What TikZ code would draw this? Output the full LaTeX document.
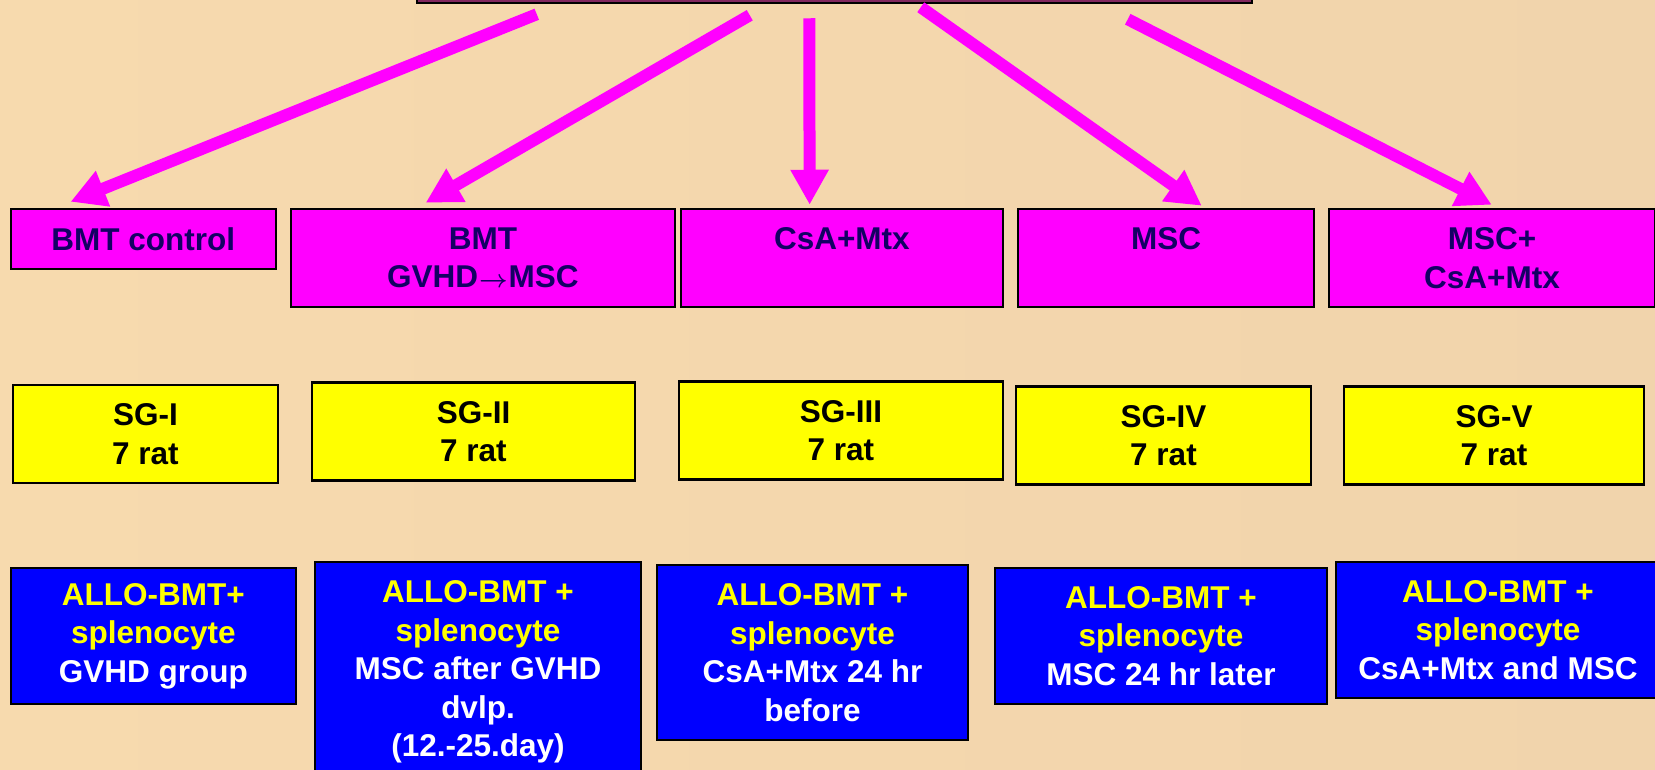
\documentclass[tikz,border=0pt]{standalone}
\usepackage{fontspec}
\setmainfont{Liberation Sans}
\usetikzlibrary{arrows.meta}
\definecolor{parchment}{RGB}{247,218,174}
\definecolor{parchmentdark}{RGB}{241,212,172}
\definecolor{pinkfill}{RGB}{255,0,255}
\definecolor{navytext}{RGB}{20,0,100}
\definecolor{protoblue}{RGB}{0,0,255}
\definecolor{hlyellow}{RGB}{255,255,0}
\definecolor{titlefill}{RGB}{130,40,95}

\begin{document}
\begin{tikzpicture}[
    x=1pt, y=-1pt,
    every node/.style={font=\fontsize{31.5}{38.5}\selectfont\bfseries, align=center, inner sep=0pt},
    box/.style={rectangle, draw=black, line width=2.5pt},
    treat/.style={box, fill=pinkfill, text=navytext, minimum height=98pt},
    group/.style={box, fill=hlyellow, text=black, minimum height=98pt},
    proto/.style={box, fill=protoblue, text=white},
    arrow/.style={-{Triangle[length=35pt, width=36pt]}, line width=12pt, draw=pinkfill}
]
% background
\useasboundingbox (0,0) rectangle (1655,769);
\shade[left color=parchment, right color=parchmentdark] (0,0) rectangle (1655,769);

% title box (cut off at the top)
\node[box, fill=titlefill, minimum width=835pt, minimum height=62pt] (title) at (834.5,-28) {};

% treatment row
\node[treat, minimum width=265pt, minimum height=60pt] (ctrl) at (143.3,239) {BMT control};
\node[treat, minimum width=384pt] (late) at (482.9,258) {BMT\\GVHD\kern1pt{\boldmath$\rightarrow$}\kern1ptMSC};
\node[treat, minimum width=322pt] (csa) at (841.9,258) {CsA+Mtx\\\mbox{}};
\node[treat, minimum width=296pt] (msc) at (1166,258) {MSC\\\mbox{}};
\node[treat, minimum width=326pt] (combo) at (1492,258) {MSC+\\CsA+Mtx};

% study groups
\node[group, minimum width=265pt] (sg1) at (145.5,434) {SG-I\\7 rat};
\node[group, minimum width=323pt] (sg2) at (473.5,431.5) {SG-II\\7 rat};
\node[group, minimum width=324pt] (sg3) at (841,430.5) {SG-III\\7 rat};
\node[group, minimum width=295pt] (sg4) at (1163.5,435.5) {SG-IV\\7 rat};
\node[group, minimum width=300pt] (sg5) at (1494,435.5) {SG-V\\7 rat};

% protocols
\node[proto, minimum width=285pt, minimum height=136pt] (p1) at (153.3,636)
    {\textcolor{hlyellow}{ALLO-BMT+}\\\textcolor{hlyellow}{splenocyte}\\GVHD group};
\node[proto, minimum width=326pt, minimum height=220pt] (p2) at (478,672)
    {\textcolor{hlyellow}{ALLO-BMT +}\\\textcolor{hlyellow}{splenocyte}\\MSC after GVHD\\dvlp.\\(12.-25.day)};
\node[proto, minimum width=311pt, minimum height=175pt] (p3) at (812.5,652.5)
    {\textcolor{hlyellow}{ALLO-BMT +}\\\textcolor{hlyellow}{splenocyte}\\CsA+Mtx 24 hr\\before};
\node[proto, minimum width=332pt, minimum height=136pt] (p4) at (1161,636)
    {\textcolor{hlyellow}{ALLO-BMT +}\\\textcolor{hlyellow}{splenocyte}\\MSC 24 hr later};
\node[proto, minimum width=324pt, minimum height=136pt] (p5) at (1498,630)
    {\textcolor{hlyellow}{ALLO-BMT +}\\\textcolor{hlyellow}{splenocyte}\\CsA+Mtx and MSC};

% arrows from the title box
\draw[arrow] ([xshift=121pt, yshift=-10pt]title.south west) -- ([xshift=61pt, yshift=6pt]ctrl.north west);
\draw[arrow] ([xshift=334pt, yshift=-11pt]title.south west) -- ([xshift=136pt, yshift=5pt]late.north west);
\draw[arrow] ([xshift=393.5pt, yshift=-14pt]title.south west) -- ([xshift=130pt, yshift=3pt]csa.north west);
\draw[arrow] ([xshift=505pt, yshift=-3pt]title.south west) -- ([xshift=185pt, yshift=2pt]msc.north west);
\draw[arrow] ([xshift=712pt, yshift=-15pt]title.south west) -- ([xshift=164pt, yshift=3pt]combo.north west);
\end{tikzpicture}
\end{document}
